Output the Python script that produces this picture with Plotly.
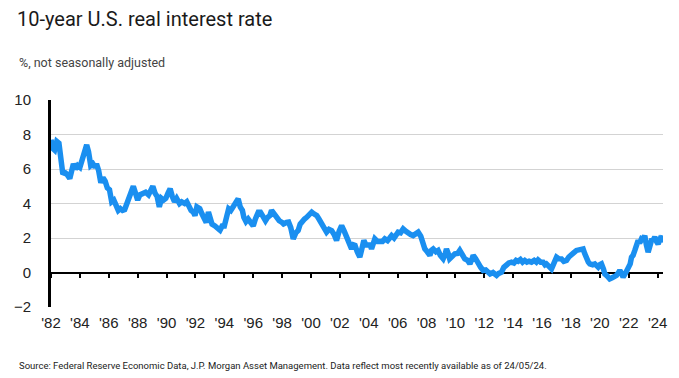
import plotly.graph_objects as go

# ---- data ----
years = [1982.00, 1982.12, 1982.25, 1982.40, 1982.55, 1982.70, 1982.82, 1982.95, 1983.10, 1983.30,
         1983.45, 1983.55, 1983.70, 1983.85, 1984.00, 1984.20, 1984.35, 1984.47, 1984.60, 1984.75,
         1984.90, 1985.05, 1985.15, 1985.30, 1985.45, 1985.60, 1985.75, 1985.90, 1986.05, 1986.20,
         1986.35, 1986.50, 1986.66, 1986.80, 1986.95, 1987.10, 1987.25, 1987.40, 1987.55, 1987.70,
         1987.85, 1988.00, 1988.15, 1988.35, 1988.55, 1988.75, 1988.90, 1989.05, 1989.20, 1989.35,
         1989.50, 1989.65, 1989.80, 1989.95, 1990.10, 1990.25, 1990.40, 1990.55, 1990.70, 1990.90,
         1991.05, 1991.25, 1991.40, 1991.55, 1991.70, 1991.85, 1991.97, 1992.10, 1992.30, 1992.45,
         1992.60, 1992.75, 1992.90, 1993.05, 1993.15, 1993.35, 1993.55, 1993.70, 1993.85, 1994.00,
         1994.15, 1994.30, 1994.45, 1994.60, 1994.80, 1994.96, 1995.10, 1995.25, 1995.35, 1995.50,
         1995.65, 1995.85, 1996.00, 1996.15, 1996.35, 1996.50, 1996.65, 1996.85, 1997.00, 1997.15,
         1997.27, 1997.45, 1997.62, 1997.80, 1998.00, 1998.10, 1998.30, 1998.45, 1998.60, 1998.77,
         1998.95, 1999.11, 1999.25, 1999.40, 1999.55, 1999.70, 1999.85, 2000.05, 2000.20, 2000.40,
         2000.55, 2000.73, 2000.90, 2001.08, 2001.25, 2001.43, 2001.60, 2001.77, 2001.95, 2002.12,
         2002.30, 2002.46, 2002.60, 2002.81, 2002.95, 2003.05, 2003.20, 2003.38, 2003.50, 2003.66,
         2003.80, 2003.96, 2004.10, 2004.19, 2004.30, 2004.42, 2004.60, 2004.77, 2004.95, 2005.11,
         2005.30, 2005.45, 2005.58, 2005.75, 2005.90, 2006.03, 2006.20, 2006.38, 2006.55, 2006.73,
         2006.90, 2007.07, 2007.25, 2007.42, 2007.60, 2007.75, 2007.88, 2008.05, 2008.23, 2008.35,
         2008.46, 2008.65, 2008.80, 2008.95, 2009.15, 2009.30, 2009.38, 2009.50, 2009.60, 2009.80,
         2009.96, 2010.15, 2010.30, 2010.50, 2010.65, 2010.85, 2011.00, 2011.15, 2011.23, 2011.40,
         2011.58, 2011.75, 2011.92, 2012.10, 2012.27, 2012.40, 2012.60, 2012.85, 2013.00, 2013.19,
         2013.35, 2013.54, 2013.70, 2013.88, 2014.05, 2014.20, 2014.34, 2014.50, 2014.65, 2014.80,
         2014.95, 2015.10, 2015.27, 2015.45, 2015.60, 2015.72, 2015.90, 2016.07, 2016.20, 2016.30,
         2016.50, 2016.65, 2016.80, 2017.00, 2017.15, 2017.34, 2017.50, 2017.69, 2017.85, 2018.03,
         2018.20, 2018.38, 2018.60, 2018.84, 2018.95, 2019.07, 2019.20, 2019.30, 2019.50, 2019.65,
         2019.80, 2019.88, 2020.00, 2020.11, 2020.25, 2020.34, 2020.50, 2020.68, 2020.85, 2021.00,
         2021.15, 2021.30, 2021.38, 2021.50, 2021.61, 2021.80, 2021.95, 2022.10, 2022.19, 2022.30,
         2022.42, 2022.55, 2022.65, 2022.75, 2022.88, 2023.00, 2023.11, 2023.22, 2023.34, 2023.45,
         2023.57, 2023.70, 2023.80, 2023.92, 2024.03, 2024.15, 2024.25, 2024.37]

real_rate = [7.7, 7.2, 7.1, 7.6, 7.5, 6.4, 5.7, 5.8, 5.7, 5.45,
             5.9, 6.3, 6.0, 6.2, 6.1, 6.6, 7.0, 7.4, 7.0, 6.2,
             6.3, 6.1, 6.3, 5.9, 5.2, 5.5, 5.3, 4.9, 4.8, 4.1,
             4.2, 3.9, 3.6, 3.7, 3.6, 3.65, 4.0, 4.3, 4.5, 5.0,
             4.6, 4.2, 4.5, 4.6, 4.65, 4.5, 4.8, 5.0, 4.6, 4.4,
             3.8, 4.3, 4.2, 4.3, 4.6, 4.85, 4.4, 4.1, 4.3, 4.0,
             4.1, 4.0, 4.1, 3.8, 3.6, 3.5, 3.3, 3.8, 3.7, 3.4,
             3.1, 2.9, 3.5, 3.2, 2.8, 2.7, 2.6, 2.45, 2.7, 2.7,
             3.2, 3.7, 3.6, 3.8, 4.0, 4.27, 3.8, 3.6, 3.2, 2.95,
             3.1, 2.9, 2.7, 3.1, 3.5, 3.5, 3.3, 3.0, 3.2, 3.3,
             3.6, 3.4, 3.1, 3.0, 2.9, 2.82, 2.9, 2.92, 2.6, 1.95,
             2.3, 2.43, 2.8, 3.0, 3.1, 3.2, 3.3, 3.5, 3.4, 3.3,
             3.1, 2.82, 2.6, 2.34, 2.5, 2.43, 2.2, 1.86, 2.4, 2.72,
             2.4, 2.05, 1.8, 1.37, 1.6, 1.57, 1.2, 0.89, 1.3, 1.86,
             1.6, 1.57, 1.6, 1.37, 1.7, 1.95, 1.8, 1.76, 1.8, 1.95,
             1.85, 2.0, 2.14, 2.0, 2.2, 2.34, 2.3, 2.53, 2.4, 2.24,
             2.2, 2.14, 2.3, 2.34, 2.1, 1.7, 1.37, 1.2, 0.99, 1.3,
             1.37, 1.2, 1.28, 1.0, 0.8, 1.1, 1.37, 1.1, 0.79, 0.95,
             1.08, 1.1, 1.28, 1.0, 0.79, 0.7, 0.5, 0.8, 1.0, 0.8,
             0.5, 0.3, 0.12, 0.15, 0.02, -0.08, 0.0, -0.17, -0.05, 0.02,
             0.3, 0.5, 0.55, 0.6, 0.55, 0.7, 0.65, 0.75, 0.6, 0.7,
             0.6, 0.65, 0.6, 0.7, 0.6, 0.73, 0.6, 0.6, 0.45, 0.5,
             0.35, 0.21, 0.5, 0.89, 0.8, 0.79, 0.65, 0.7, 0.9, 1.08,
             1.15, 1.28, 1.3, 1.37, 1.1, 0.79, 0.6, 0.5, 0.45, 0.5,
             0.35, 0.31, 0.45, 0.5, 0.2, -0.08, -0.2, -0.37, -0.3, -0.25,
             -0.17, 0.0, 0.12, -0.05, -0.27, 0.0, 0.21, 0.5, 0.89, 1.0,
             1.28, 1.6, 1.86, 1.7, 1.95, 1.9, 2.14, 1.6, 1.18, 1.5,
             1.86, 1.9, 2.05, 1.8, 1.66, 1.9, 1.8, 2.14]

x_tick_years = [1982, 1984, 1986, 1988, 1990, 1992, 1994, 1996, 1998, 2000, 2002,
                2004, 2006, 2008, 2010, 2012, 2014, 2016, 2018, 2020, 2022, 2024]
x_tick_labels = ["'82", "'84", "'86", "'88", "'90", "'92", "'94", "'96", "'98", "'00", "'02",
                 "'04", "'06", "'08", "'10", "'12", "'14", "'16", "'18", "'20", "'22", "'24"]
y_ticks = [-2, 0, 2, 4, 6, 8, 10]

title_text = "10-year U.S. real interest rate"
subtitle_text = "%, not seasonally adjusted"
source_text = ("Source: Federal Reserve Economic Data, J.P. Morgan Asset Management. "
               "Data reflect most recently available as of 24/05/24.")

# ---- figure ----
W, H = 679, 378
ML, MR, MT, MB = 51, 16, 100, 71
PW, PH = W - ML - MR, H - MT - MB
x_range = [1982, 2024.37]
y_range = [-2, 10]

def px_x(px):
    return (px - ML) / PW

def px_y(py):
    return (H - MB - py) / PH

fig = go.Figure()
fig.add_trace(go.Scatter(x=years, y=real_rate, mode="lines",
                         line=dict(color="#1a8ff0", width=5.5),
                         hoverinfo="skip", showlegend=False))
# helper trace so the tick axis sitting on the zero line is drawn
fig.add_trace(go.Scatter(x=[years[0]], y=[real_rate[0]], xaxis="x2", mode="markers",
                         marker=dict(opacity=0), hoverinfo="skip", showlegend=False))

axis_font = dict(family="Liberation Sans, Arial, sans-serif", size=15, color="#222222")

fig.update_layout(
    width=W, height=H,
    margin=dict(l=ML, r=MR, t=MT, b=MB),
    paper_bgcolor="white", plot_bgcolor="white",
    showlegend=False,
    xaxis=dict(range=x_range, tickmode="array", tickvals=x_tick_years, ticktext=x_tick_labels,
               showgrid=False, zeroline=False, showline=False, ticks="",
               tickfont=axis_font, ticklabelstandoff=5),
    xaxis2=dict(range=x_range, overlaying="x", anchor="free",
                position=(0 - y_range[0]) / (y_range[1] - y_range[0]),
                tickmode="array", tickvals=x_tick_years, showticklabels=False,
                ticks="outside", ticklen=4, tickwidth=2, tickcolor="black",
                showgrid=False, zeroline=False, showline=False),
    yaxis=dict(range=y_range, tickmode="array", tickvals=y_ticks,
               showgrid=True, gridcolor="#d3d3d3", gridwidth=1,
               zeroline=True, zerolinecolor="black", zerolinewidth=2,
               showline=True, linecolor="black", linewidth=3,
               ticks="", tickfont=axis_font, ticklabelstandoff=14),
    title=dict(text=title_text, x=17 / W, xanchor="left", xref="container",
               y=1 - 19 / H, yanchor="middle", yref="container",
               font=dict(family="Roboto, sans-serif", size=20, color="#1a1a1a")),
    annotations=[
        dict(text=subtitle_text, x=px_x(17), y=px_y(62), xref="paper", yref="paper",
             xanchor="left", yanchor="middle", showarrow=False,
             font=dict(family="Roboto, sans-serif", size=12.5, color="#444444")),
        dict(text=source_text, x=px_x(17), y=px_y(365), xref="paper", yref="paper",
             xanchor="left", yanchor="middle", showarrow=False,
             font=dict(family="Roboto, sans-serif", size=9.5, color="#222222")),
    ],
)

fig.write_html("out.html", config={"displayModeBar": False},
               post_script="document.body.style.margin='0px';")
